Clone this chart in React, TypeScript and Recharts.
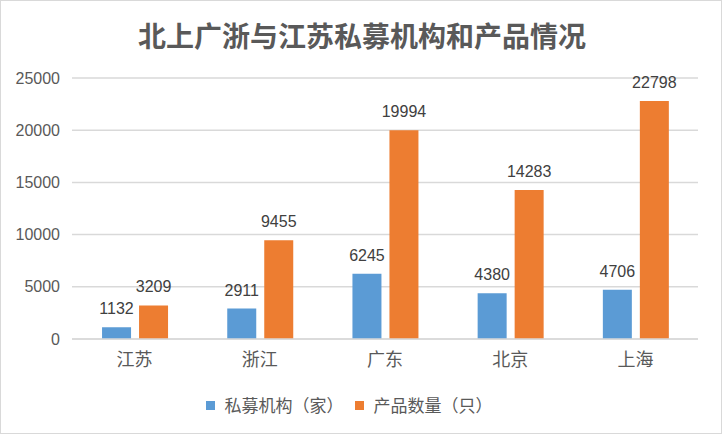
import React from 'react';
import { BarChart, Bar, XAxis, YAxis, CartesianGrid, Legend, LabelList } from 'recharts';

const categories = ['江苏', '浙江', '广东', '北京', '上海'];
const institutions = [1132, 2911, 6245, 4380, 4706];
const products = [3209, 9455, 19994, 14283, 22798];
const yTicks = [0, 5000, 10000, 15000, 20000, 25000];
const seriesNames = ['私募机构（家）', '产品数量（只）'];

const data = categories.map((name, i) => ({ name, inst: institutions[i], prod: products[i] }));

const BLUE = '#5B9BD5';
const ORANGE = '#ED7D31';
const TEXT = '#595959';

const renderLegend = () => (
  <div style={{ display: 'flex', justifyContent: 'center', alignItems: 'center', fontFamily: '"Noto Sans CJK SC"', fontSize: 17, color: TEXT, lineHeight: '24px' }}>
    {[BLUE, ORANGE].map((c, i) => (
      <div key={i} style={{ display: 'flex', alignItems: 'center', marginRight: i === 0 ? 11 : 0 }}>
        <span style={{ display: 'inline-block', width: 9, height: 9, background: c, marginRight: 10 }} />
        <span>{seriesNames[i]}</span>
      </div>
    ))}
  </div>
);

export default function App() {
  return (
    <div style={{ position: 'absolute', left: 0, top: 0, width: 722, height: 434, background: '#fff', border: '1px solid #d9d9d9', boxSizing: 'border-box' }}>
      <div style={{ position: 'absolute', left: 0, top: 14, width: 722, textAlign: 'center', fontFamily: '"Noto Sans CJK SC"', fontWeight: 700, fontSize: 28, color: TEXT, lineHeight: '40px' }}>
        北上广浙与江苏私募机构和产品情况
      </div>
      <div style={{ position: 'absolute', left: -1, top: -1 }}>
        <BarChart width={722} height={434} data={data} margin={{ top: 78, right: 24, bottom: 35, left: 0 }} barCategoryGap="24%" barGap={8}>
          <CartesianGrid vertical={false} stroke="#d9d9d9" strokeWidth={1.5} />
          <XAxis dataKey="name" axisLine={{ stroke: '#d9d9d9', strokeWidth: 1.5 }} tickLine={false} height={30} tickMargin={8}
            tick={{ fill: TEXT, fontSize: 18, fontFamily: '"Noto Sans CJK SC"' }} />
          <YAxis domain={[0, 25000]} ticks={yTicks} axisLine={false} tickLine={false} tickSize={0} tickMargin={12} width={72}
            tick={{ fill: TEXT, fontSize: 16, fontFamily: '"Liberation Sans"' }} />
          <Legend verticalAlign="bottom" height={30} content={renderLegend} wrapperStyle={{ top: 393, bottom: 'auto' }} />
          <Bar dataKey="inst" name={seriesNames[0]} fill={BLUE} isAnimationActive={false}>
            <LabelList dataKey="inst" position="top" offset={13} fill="#404040" fontSize={16} fontFamily='"Liberation Sans"' />
          </Bar>
          <Bar dataKey="prod" name={seriesNames[1]} fill={ORANGE} isAnimationActive={false}>
            <LabelList dataKey="prod" position="top" offset={13} fill="#404040" fontSize={16} fontFamily='"Liberation Sans"' />
          </Bar>
        </BarChart>
      </div>
    </div>
  );
}
